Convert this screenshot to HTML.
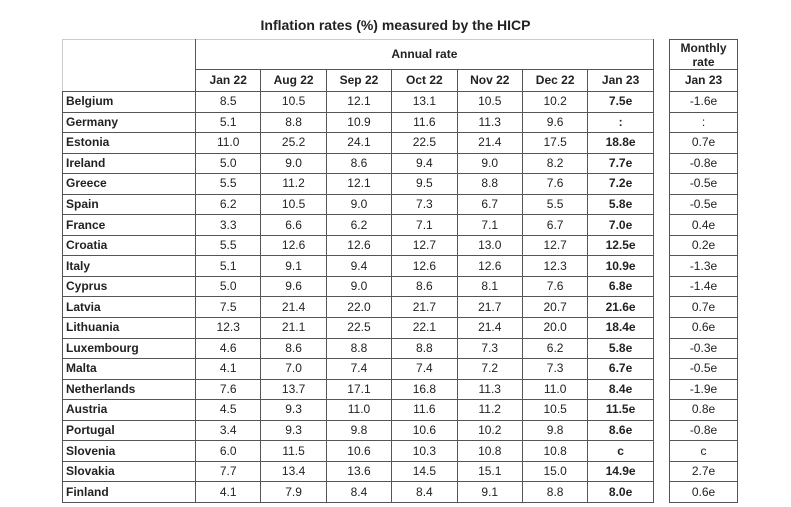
<!DOCTYPE html>
<html><head><meta charset="utf-8"><style>
body{margin:0;width:791px;height:507px;background:#fff;font-family:"Liberation Sans",Arial,sans-serif;color:#222;position:relative;overflow:hidden}
.t{position:absolute;left:0;top:17px;width:791px;text-align:center;font-weight:bold;font-size:14px}
table{position:absolute;border-collapse:collapse;table-layout:fixed;font-size:12px}
td{border:1.5px solid #555;padding:0;text-align:center;height:19.55px;line-height:19px;overflow:hidden;white-space:nowrap}
td.c{text-align:left;padding-left:3px;font-weight:bold}
td.b{font-weight:bold}
tr.h td{font-weight:bold}
</style></head><body>
<div class="t">Inflation rates (%) measured by the HICP</div>
<table style="left:62px;top:39px;width:591px">
<colgroup><col style="width:133px"><col span="7" style="width:65.4px"></colgroup>
<tr><td rowspan="2" style="border-left-color:#ccc;border-top-color:#ccc;height:51px"></td><td colspan="7" class="b" style="height:29px;border-top-color:#ccc">Annual rate</td></tr>
<tr class="h"><td style="height:21px">Jan 22</td><td>Aug 22</td><td>Sep 22</td><td>Oct 22</td><td>Nov 22</td><td>Dec 22</td><td>Jan 23</td></tr>
<tr><td class="c">Belgium</td><td>8.5</td><td>10.5</td><td>12.1</td><td>13.1</td><td>10.5</td><td>10.2</td><td class="b">7.5e</td></tr>
<tr><td class="c">Germany</td><td>5.1</td><td>8.8</td><td>10.9</td><td>11.6</td><td>11.3</td><td>9.6</td><td class="b">:</td></tr>
<tr><td class="c">Estonia</td><td>11.0</td><td>25.2</td><td>24.1</td><td>22.5</td><td>21.4</td><td>17.5</td><td class="b">18.8e</td></tr>
<tr><td class="c">Ireland</td><td>5.0</td><td>9.0</td><td>8.6</td><td>9.4</td><td>9.0</td><td>8.2</td><td class="b">7.7e</td></tr>
<tr><td class="c">Greece</td><td>5.5</td><td>11.2</td><td>12.1</td><td>9.5</td><td>8.8</td><td>7.6</td><td class="b">7.2e</td></tr>
<tr><td class="c">Spain</td><td>6.2</td><td>10.5</td><td>9.0</td><td>7.3</td><td>6.7</td><td>5.5</td><td class="b">5.8e</td></tr>
<tr><td class="c">France</td><td>3.3</td><td>6.6</td><td>6.2</td><td>7.1</td><td>7.1</td><td>6.7</td><td class="b">7.0e</td></tr>
<tr><td class="c">Croatia</td><td>5.5</td><td>12.6</td><td>12.6</td><td>12.7</td><td>13.0</td><td>12.7</td><td class="b">12.5e</td></tr>
<tr><td class="c">Italy</td><td>5.1</td><td>9.1</td><td>9.4</td><td>12.6</td><td>12.6</td><td>12.3</td><td class="b">10.9e</td></tr>
<tr><td class="c">Cyprus</td><td>5.0</td><td>9.6</td><td>9.0</td><td>8.6</td><td>8.1</td><td>7.6</td><td class="b">6.8e</td></tr>
<tr><td class="c">Latvia</td><td>7.5</td><td>21.4</td><td>22.0</td><td>21.7</td><td>21.7</td><td>20.7</td><td class="b">21.6e</td></tr>
<tr><td class="c">Lithuania</td><td>12.3</td><td>21.1</td><td>22.5</td><td>22.1</td><td>21.4</td><td>20.0</td><td class="b">18.4e</td></tr>
<tr><td class="c">Luxembourg</td><td>4.6</td><td>8.6</td><td>8.8</td><td>8.8</td><td>7.3</td><td>6.2</td><td class="b">5.8e</td></tr>
<tr><td class="c">Malta</td><td>4.1</td><td>7.0</td><td>7.4</td><td>7.4</td><td>7.2</td><td>7.3</td><td class="b">6.7e</td></tr>
<tr><td class="c">Netherlands</td><td>7.6</td><td>13.7</td><td>17.1</td><td>16.8</td><td>11.3</td><td>11.0</td><td class="b">8.4e</td></tr>
<tr><td class="c">Austria</td><td>4.5</td><td>9.3</td><td>11.0</td><td>11.6</td><td>11.2</td><td>10.5</td><td class="b">11.5e</td></tr>
<tr><td class="c">Portugal</td><td>3.4</td><td>9.3</td><td>9.8</td><td>10.6</td><td>10.2</td><td>9.8</td><td class="b">8.6e</td></tr>
<tr><td class="c">Slovenia</td><td>6.0</td><td>11.5</td><td>10.6</td><td>10.3</td><td>10.8</td><td>10.8</td><td class="b">c</td></tr>
<tr><td class="c">Slovakia</td><td>7.7</td><td>13.4</td><td>13.6</td><td>14.5</td><td>15.1</td><td>15.0</td><td class="b">14.9e</td></tr>
<tr><td class="c">Finland</td><td>4.1</td><td>7.9</td><td>8.4</td><td>8.4</td><td>9.1</td><td>8.8</td><td class="b">8.0e</td></tr>
</table>
<table style="left:669px;top:39px;width:69px">
<tr class="h"><td style="height:29px;line-height:14px;white-space:normal">Monthly<br>rate</td></tr>
<tr class="h"><td style="height:21px">Jan 23</td></tr>
<tr><td>-1.6e</td></tr><tr><td>:</td></tr><tr><td>0.7e</td></tr><tr><td>-0.8e</td></tr><tr><td>-0.5e</td></tr><tr><td>-0.5e</td></tr><tr><td>0.4e</td></tr><tr><td>0.2e</td></tr><tr><td>-1.3e</td></tr><tr><td>-1.4e</td></tr><tr><td>0.7e</td></tr><tr><td>0.6e</td></tr><tr><td>-0.3e</td></tr><tr><td>-0.5e</td></tr><tr><td>-1.9e</td></tr><tr><td>0.8e</td></tr><tr><td>-0.8e</td></tr><tr><td>c</td></tr><tr><td>2.7e</td></tr><tr><td>0.6e</td></tr>
</table>
</body></html>
